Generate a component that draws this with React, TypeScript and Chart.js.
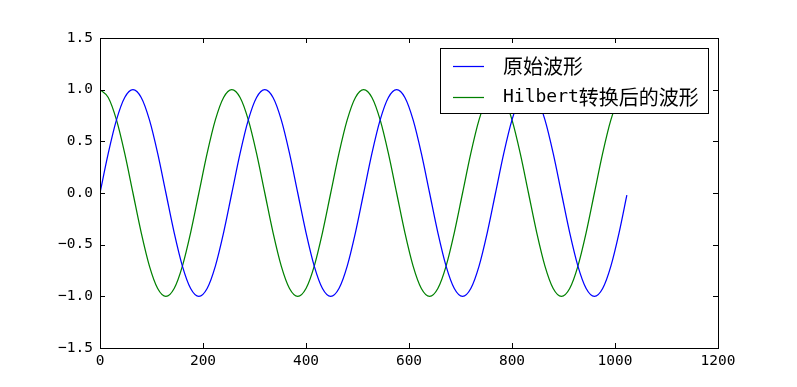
import React, { useEffect, useRef } from "react";
import { Chart, registerables } from "chart.js";

Chart.register(...registerables);

// x positions (sample index)
const xValues = [
  0, 16, 32, 48, 64, 80, 96, 112, 128, 144, 160, 176, 192, 208, 224, 240,
  256, 272, 288, 304, 320, 336, 352, 368, 384, 400, 416, 432, 448, 464, 480, 496,
  512, 528, 544, 560, 576, 592, 608, 624, 640, 656, 672, 688, 704, 720, 736, 752,
  768, 784, 800, 816, 832, 848, 864, 880, 896, 912, 928, 944, 960, 976, 992, 1008,
  1023,
];

// 原始波形
const originalWave = [
  0, 0.383, 0.707, 0.924, 1, 0.924, 0.707, 0.383, 0, -0.383, -0.707, -0.924, -1, -0.924, -0.707, -0.383,
  0, 0.383, 0.707, 0.924, 1, 0.924, 0.707, 0.383, 0, -0.383, -0.707, -0.924, -1, -0.924, -0.707, -0.383,
  0, 0.383, 0.707, 0.924, 1, 0.924, 0.707, 0.383, 0, -0.383, -0.707, -0.924, -1, -0.924, -0.707, -0.383,
  0, 0.383, 0.707, 0.924, 1, 0.924, 0.707, 0.383, 0, -0.383, -0.707, -0.924, -1, -0.924, -0.707, -0.383,
  -0.02,
];

// Hilbert转换后的波形
const hilbertWave = [
  1, 0.924, 0.707, 0.383, 0, -0.383, -0.707, -0.924, -1, -0.924, -0.707, -0.383, 0, 0.383, 0.707, 0.924,
  1, 0.924, 0.707, 0.383, 0, -0.383, -0.707, -0.924, -1, -0.924, -0.707, -0.383, 0, 0.383, 0.707, 0.924,
  1, 0.924, 0.707, 0.383, 0, -0.383, -0.707, -0.924, -1, -0.924, -0.707, -0.383, 0, 0.383, 0.707, 0.924,
  1, 0.924, 0.707, 0.383, 0, -0.383, -0.707, -0.924, -1, -0.924, -0.707, -0.383, 0, 0.383, 0.707, 0.924,
  1,
];

const seriesLabels = ["原始波形", "Hilbert转换后的波形"];
const seriesColors = ["#0000ff", "#008000"];

const xMin = 0, xMax = 1200, xStep = 200;
const yMin = -1.5, yMax = 1.5, yStep = 0.5;

const MONO = "'DejaVu Sans Mono', monospace";
const CJK = "'Noto Sans CJK SC', sans-serif";

const framePlugin = {
  id: "frameTicks",
  afterDatasetsDraw(chart: any) {
    const { ctx, chartArea: a, scales } = chart;
    const L = 5;
    ctx.save();
    ctx.strokeStyle = "#000";
    ctx.lineWidth = 1;
    ctx.beginPath();
    for (const t of scales.x.ticks) {
      const px = Math.round(scales.x.getPixelForValue(t.value)) + 0.5;
      ctx.moveTo(px, a.bottom);
      ctx.lineTo(px, a.bottom - L);
      ctx.moveTo(px, a.top);
      ctx.lineTo(px, a.top + L);
    }
    for (const t of scales.y.ticks) {
      const py = Math.round(scales.y.getPixelForValue(t.value)) + 0.5;
      ctx.moveTo(a.left, py);
      ctx.lineTo(a.left + L, py);
      ctx.moveTo(a.right, py);
      ctx.lineTo(a.right - L, py);
    }
    ctx.stroke();
    ctx.strokeRect(Math.round(a.left) + 0.5, Math.round(a.top) + 0.5, Math.round(a.right - a.left), Math.round(a.bottom - a.top));

    // legend
    const bx = 440.5, by = 48.5, bw = 268, bh = 65;
    ctx.fillStyle = "#fff";
    ctx.fillRect(bx, by, bw, bh);
    ctx.strokeRect(bx, by, bw, bh);
    const rows = [66.5, 97.5];
    chart.data.datasets.forEach((ds: any, i: number) => {
      const y = rows[i];
      ctx.strokeStyle = ds.borderColor;
      ctx.lineWidth = 1.25;
      ctx.beginPath();
      ctx.moveTo(453, y);
      ctx.lineTo(484, y);
      ctx.stroke();
      let x = 503;
      ctx.fillStyle = "#000";
      ctx.textBaseline = "middle";
      ctx.textAlign = "left";
      const runs = (ds.label as string).match(/[\x00-\x7f]+|[^\x00-\x7f]+/g) || [];
      for (const r of runs) {
        const ascii = /^[\x00-\x7f]+$/.test(r);
        ctx.font = ascii ? `18px ${MONO}` : `20px ${CJK}`;
        ctx.fillText(r, x, y);
        x += ctx.measureText(r).width;
      }
    });
    ctx.restore();
  },
};

export default function App() {
  const ref = useRef<HTMLCanvasElement | null>(null);
  useEffect(() => {
    document.body.style.margin = "0";
    const fmt = (v: number) => {
      const s = Math.abs(v).toFixed(1);
      return v < 0 ? "\u2212" + s : s;
    };
    const chart = new Chart(ref.current as HTMLCanvasElement, {
      type: "line",
      data: {
        datasets: [originalWave, hilbertWave].map((arr, i) => ({
          label: seriesLabels[i],
          data: xValues.map((x, j) => ({ x, y: arr[j] })),
          borderColor: seriesColors[i],
          backgroundColor: seriesColors[i],
          borderWidth: 1.25,
          pointRadius: 0,
          cubicInterpolationMode: "monotone" as const,
          fill: false,
        })),
      },
      options: {
        responsive: false,
        animation: false,
        layout: { padding: { left: 0, top: 38, right: 79, bottom: 0 } },
        plugins: { legend: { display: false }, tooltip: { enabled: false } },
        scales: {
          x: {
            type: "linear",
            min: xMin,
            max: xMax,
            ticks: {
              stepSize: xStep,
              color: "#000",
              font: { family: MONO, size: 14.5 },
              padding: 5,
              maxRotation: 0,
              callback: (v: any) => String(v),
            },
            grid: { display: false, drawTicks: false },
            border: { display: false },
            afterFit: (s: any) => { s.height = 39; },
          },
          y: {
            type: "linear",
            min: yMin,
            max: yMax,
            ticks: {
              stepSize: yStep,
              color: "#000",
              font: { family: MONO, size: 14.5 },
              padding: 7,
              callback: (v: any) => fmt(Number(v)),
            },
            grid: { display: false, drawTicks: false },
            border: { display: false },
            afterFit: (s: any) => { s.width = 100; },
          },
        },
      },
      plugins: [framePlugin],
    });
    return () => chart.destroy();
  }, []);
  return (
    <div style={{ position: "absolute", left: 0, top: 0, width: 797, height: 387, background: "#fff" }}>
      <canvas ref={ref} width={797} height={387} />
    </div>
  );
}
